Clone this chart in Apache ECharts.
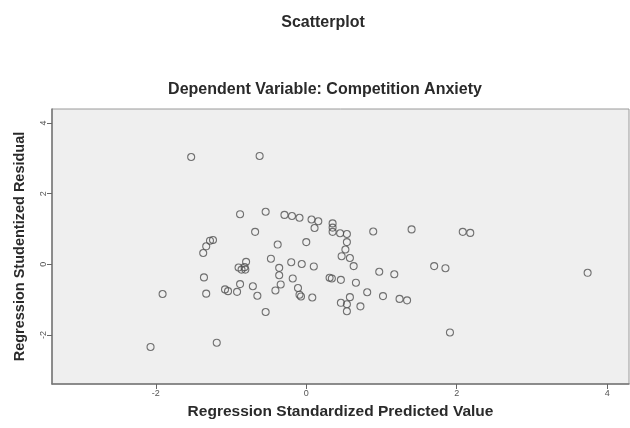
<!DOCTYPE html>
<html>
<head>
<meta charset="utf-8">
<script src="https://cdn.jsdelivr.net/npm/echarts@6/dist/echarts.min.js"></script>
<style>
html,body{margin:0;padding:0;background:#fff;}
#c{width:630px;height:428px;}
</style>
</head>
<body>
<div id="c"></div>
<script>
const chartTitle = "Scatterplot";
const chartSubtitle = "Dependent Variable: Competition Anxiety";
const xAxisName = "Regression Standardized Predicted Value";
const yAxisName = "Regression Studentized Residual";
const xTicks = [-2, 0, 2, 4];
const yTicks = [-2, 0, 2, 4];
const predicted = [
  -1.53, -0.62, -0.88, -0.54, -0.29, -0.19, -0.09, 0.07, 0.16, 0.11,
  0.35, 0.35, 0.35, 0.45, 0.54, 0.89, 1.40, 2.08, 2.18, -0.68,
  0.00, -0.38, 0.54, -1.24, -1.28, -1.33, -1.37, 0.52, 0.47, 0.58,
  -0.47, -0.80, -0.82, -0.90, -0.81, -0.86, -0.20, -0.06, 0.10, 0.63,
  -0.36, 1.70, 1.85, 0.97, 1.17, 3.74, -1.36, -0.36, -0.18, 0.31,
  0.34, 0.46, 0.66, -0.88, -0.71, -0.34, -0.11, -0.41, -1.91, -1.33,
  -1.08, -1.04, -0.92, -0.65, -0.09, -0.07, 0.08, 0.81, 1.02, 1.24,
  1.34, 0.58, 0.46, 0.54, 0.72, 0.54, -0.54, -2.07, -1.19, 1.91
];
const residual = [
  3.04, 3.07, 1.42, 1.49, 1.40, 1.37, 1.32, 1.27, 1.22, 1.03,
  1.16, 1.04, 0.92, 0.88, 0.86, 0.93, 0.99, 0.92, 0.89, 0.92,
  0.63, 0.56, 0.63, 0.69, 0.67, 0.51, 0.32, 0.42, 0.23, 0.18,
  0.16, 0.07, -0.08, -0.09, -0.15, -0.15, 0.06, 0.01, -0.06, -0.05,
  -0.10, -0.05, -0.11, -0.21, -0.28, -0.24, -0.37, -0.31, -0.40, -0.38,
  -0.40, -0.44, -0.52, -0.56, -0.62, -0.57, -0.67, -0.74, -0.84, -0.83,
  -0.71, -0.76, -0.78, -0.89, -0.86, -0.91, -0.94, -0.79, -0.90, -0.98,
  -1.02, -0.93, -1.09, -1.13, -1.19, -1.33, -1.35, -2.34, -2.22, -1.93
];

const points = predicted.map((x, i) => [x, residual[i]]);
const chart = echarts.init(document.getElementById('c'), null, {renderer: 'canvas'});
const ff = 'Arial, "Liberation Sans", sans-serif';
chart.setOption({
  animation: false,
  backgroundColor: '#ffffff',
  title: [
    {text: chartTitle, left: 318, textAlign: 'center', top: 10,
     textStyle: {fontFamily: ff, fontSize: 16, fontWeight: 'bold', color: '#2a2a2a'}},
    {text: chartSubtitle, left: 320, textAlign: 'center', top: 77,
     textStyle: {fontFamily: ff, fontSize: 16, fontWeight: 'bold', color: '#2a2a2a'}}
  ],
  grid: {left: 52, top: 109, right: 1, bottom: 44, show: true,
         backgroundColor: '#efefef', borderColor: '#9a9a9a', borderWidth: 1},
  xAxis: {
    type: 'value', min: -3.38, max: 4.29,
    name: xAxisName, nameLocation: 'middle', nameGap: 20,
    nameTextStyle: {fontFamily: ff, fontSize: 15.5, fontWeight: 'bold', color: '#2a2a2a'},
    axisLine: {show: true, onZero: false, lineStyle: {color: '#777', width: 1.5}},
    axisTick: {show: true, inside: false, length: 5, customValues: xTicks, lineStyle: {color: '#666'}},
    axisLabel: {customValues: xTicks, fontFamily: ff, fontSize: 9, color: '#555', margin: 5},
    splitLine: {show: false}
  },
  yAxis: {
    type: 'value', min: -3.39, max: 4.40,
    name: yAxisName, nameLocation: 'middle', nameGap: 25,
    nameTextStyle: {fontFamily: ff, fontSize: 14.5, fontWeight: 'bold', color: '#2a2a2a'},
    axisLine: {show: true, onZero: false, lineStyle: {color: '#777', width: 1.5}},
    axisTick: {show: true, inside: false, length: 5, customValues: yTicks, lineStyle: {color: '#666'}},
    axisLabel: {customValues: yTicks, rotate: 90, fontFamily: ff, fontSize: 9, color: '#555', margin: 4},
    splitLine: {show: false}
  },
  series: [{
    type: 'scatter',
    data: points,
    symbol: 'circle',
    symbolSize: 7,
    itemStyle: {color: 'rgba(0,0,0,0)', borderColor: '#505050', borderWidth: 1.1}
  }]
});
</script>
</body>
</html>
